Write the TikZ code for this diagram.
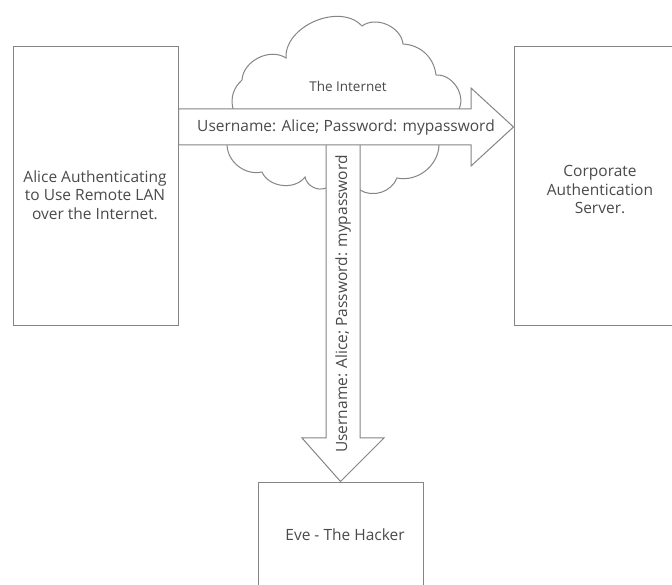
\documentclass[tikz,border=0pt]{standalone}
\usepackage{fontspec}
\setmainfont{Open Sans}
\definecolor{linegray}{HTML}{858585}
\definecolor{textgray}{HTML}{4A4A4A}
\begin{document}
\begin{tikzpicture}[x=1pt,y=1pt,
  boxstyle/.style={draw=linegray,line width=1pt,fill=white,inner sep=0pt},
  lbl/.style={text=textgray,font=\fontsize{15.5}{18.5}\selectfont,align=center,inner sep=0pt},
  arrowshape/.style={draw=linegray,line width=1pt,fill=white,line join=miter},
  cloudline/.style={draw=linegray,line width=1pt}]
\useasboundingbox (0,0) rectangle (672,584);
\clip (0,0) rectangle (672,584);
\fill[white] (0,0) rectangle (672,584);
% cloud
\draw[cloudline] (233,475) to[bend left=30] (242,504) to[bend left=60] (286,526)
  to[bend left=70] (362,558) to[bend left=60] (403,540) to[bend left=40] (436,509)
  to[bend left=60] (459,475) -- (439,439) to[bend left=50] (397,406)
  to[bend left=50] (360,394) -- (326,396) to[bend left=50] (305,407)
  to[bend left=60] (262,412) to[bend left=50] (227,439) -- cycle;
% boxes
\node[boxstyle,minimum width=165pt,minimum height=279pt] (alice) at (95.5,397.5) {};
\node[boxstyle,minimum width=186pt,minimum height=279pt] (server) at (607,397.5) {};
\node[boxstyle,minimum width=165pt,minimum height=118pt] (eve) at (340.5,43) {};
% vertical arrow
\coordinate (vtop) at (343,439);
\draw[arrowshape] ([xshift=-17pt]vtop) -- ([xshift=-17pt]vtop |- 0,146) -- (302,146)
  -- (eve.north) -- (384,146) -- ([xshift=17pt]vtop |- 0,146) -- ([xshift=17pt]vtop);
% horizontal arrow
\draw[arrowshape] (alice.east |- 0,475) -- (471,475) -- (471,496) -- (server.west |- 0,457)
  -- (471,418) -- (471,439) -- (alice.east |- 0,439) -- cycle;
% texts
\node[lbl] (alicetext) at (95,389) {Alice Authenticating\\to Use Remote LAN\\over the Internet.};
\node[lbl] (servertext) at (600,394) {Corporate\\Authentication\\Server.};
\node[lbl] (evetext) at (345,49) {Eve - The Hacker};
\node[lbl,font=\fontsize{13.5}{16}\selectfont] (inettext) at (348,498) {The Internet};
\node[lbl] (hlabel) at (346,457) {Username: Alice; Password: mypassword};
\node[lbl,rotate=90] (vlabel) at (343,280) {Username: Alice; Password: mypassword};
\end{tikzpicture}
\end{document}
